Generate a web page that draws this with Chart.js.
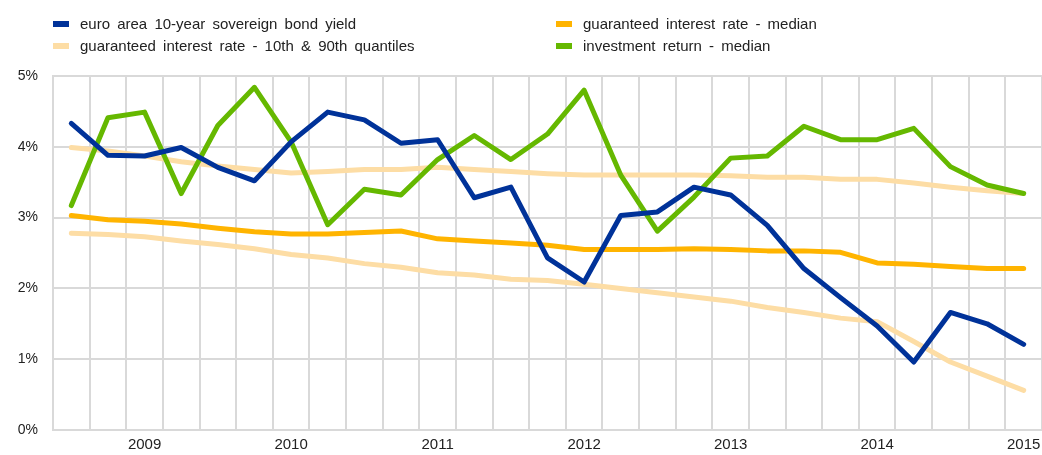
<!DOCTYPE html>
<html>
<head>
<meta charset="utf-8">
<script src="https://cdn.jsdelivr.net/npm/chart.js@4.4.1/dist/chart.umd.min.js"></script>
<style>
    body { margin: 0; background: #fff; font-family: "Liberation Sans", Arial, sans-serif; }
    #wrap { position: relative; width: 1042px; height: 455px; overflow: hidden; }
    .leg { position: absolute; font-size: 15px; color: #222; white-space: nowrap; word-spacing: 3px; }
    .leg span { position: absolute; left: -27px; top: 6px; width: 16px; height: 6px; }
</style>
</head>
<body>
<div id="wrap">
    <div class="leg" style="left:80px; top:15px;"><span style="background:#003299"></span>euro area 10-year sovereign bond yield</div>
    <div class="leg" style="left:80px; top:37px;"><span style="background:#FDDDA5"></span>guaranteed interest rate - 10th &amp; 90th quantiles</div>
    <div class="leg" style="left:583px; top:15px;"><span style="background:#FFB400"></span>guaranteed interest rate - median</div>
    <div class="leg" style="left:583px; top:37px;"><span style="background:#65B800"></span>investment return - median</div>
    <canvas id="lineChart"></canvas>
</div>
<script>
// quarters, 2008 Q3 to 2015 Q1
const quarters = [
    '2008Q3', '2008Q4',
    '2009Q1', '2009Q2', '2009Q3', '2009Q4',
    '2010Q1', '2010Q2', '2010Q3', '2010Q4',
    '2011Q1', '2011Q2', '2011Q3', '2011Q4',
    '2012Q1', '2012Q2', '2012Q3', '2012Q4',
    '2013Q1', '2013Q2', '2013Q3', '2013Q4',
    '2014Q1', '2014Q2', '2014Q3', '2014Q4',
    '2015Q1'
];

const bondYield = [4.33, 3.88, 3.87, 3.99, 3.71, 3.52, 4.07, 4.49, 4.38, 4.05, 4.10, 3.28, 3.43, 2.43,
    2.09, 3.03, 3.08, 3.43, 3.32, 2.89, 2.28, 1.87, 1.47, 0.96, 1.66, 1.50, 1.21];
const investReturn = [3.17, 4.41, 4.49, 3.34, 4.30, 4.84, 4.07, 2.90, 3.40, 3.32, 3.82, 4.16, 3.82, 4.18,
    4.80, 3.60, 2.81, 3.29, 3.84, 3.87, 4.29, 4.10, 4.10, 4.26, 3.72, 3.46, 3.34];
const guaranteedMedian = [3.03, 2.97, 2.95, 2.91, 2.85, 2.80, 2.77, 2.77, 2.79, 2.81, 2.70, 2.67, 2.64, 2.61,
    2.55, 2.55, 2.55, 2.56, 2.55, 2.53, 2.53, 2.51, 2.36, 2.34, 2.31, 2.28, 2.28];
const guaranteedP90 = [3.99, 3.94, 3.87, 3.79, 3.73, 3.68, 3.63, 3.65, 3.68, 3.68, 3.71, 3.68, 3.65, 3.62,
    3.60, 3.60, 3.60, 3.60, 3.59, 3.57, 3.57, 3.54, 3.54, 3.49, 3.43, 3.38, 3.34];
const guaranteedP10 = [2.78, 2.76, 2.73, 2.67, 2.62, 2.56, 2.48, 2.43, 2.35, 2.30, 2.22, 2.19, 2.13, 2.11,
    2.06, 2.00, 1.94, 1.88, 1.82, 1.73, 1.66, 1.58, 1.53, 1.25, 0.96, 0.76, 0.56];

const yTicks = [0, 1, 2, 3, 4, 5];

const gridColor = '#d9d9d9';
const fontFamily = '"Liberation Sans", Arial, sans-serif';

const lineStyle = (color) => ({
    borderColor: color,
    backgroundColor: color,
    borderWidth: 5,
    pointRadius: 0,
    tension: 0,
    fill: false,
    borderCapStyle: 'round',
    borderJoinStyle: 'round'
});

// first dataset is drawn on top
const data = {
    labels: quarters,
    datasets: [
        { label: 'euro area 10-year sovereign bond yield', data: bondYield, ...lineStyle('#003299') },
        { label: 'investment return - median', data: investReturn, ...lineStyle('#65B800') },
        { label: 'guaranteed interest rate - median', data: guaranteedMedian, ...lineStyle('#FFB400') },
        { label: 'guaranteed interest rate - 10th quantile', data: guaranteedP10, ...lineStyle('#FDDDA5') },
        { label: 'guaranteed interest rate - 90th quantile', data: guaranteedP90, ...lineStyle('#FDDDA5') }
    ]
};

const options = {
    responsive: true,
    maintainAspectRatio: false,
    animation: false,
    layout: { padding: { top: 76, right: 0, left: 0, bottom: 0 } },
    plugins: {
        legend: { display: false },
        tooltip: { enabled: false }
    },
    scales: {
        x: {
            type: 'category',
            offset: true,
            grid: { offset: true, color: gridColor, lineWidth: 2, drawTicks: false },
            border: { color: gridColor, width: 2 },
            ticks: {
                autoSkip: false,
                maxRotation: 0,
                padding: 6,
                color: '#222',
                font: { family: fontFamily, size: 15 },
                callback: function (value) {
                    const q = quarters[value];
                    return q.endsWith('Q1') ? q.slice(0, 4) : '';
                }
            },
            afterFit: (scale) => {
                scale.height = 25;
                scale.paddingRight = 0;
                scale.paddingLeft = 0;
            }
        },
        y: {
            min: 0,
            max: 5,
            afterBuildTicks: (scale) => { scale.ticks = yTicks.map(v => ({ value: v })); },
            grid: { color: gridColor, lineWidth: 2, drawTicks: false },
            border: { color: gridColor, width: 2 },
            ticks: {
                padding: 15,
                color: '#222',
                font: { family: fontFamily, size: 14 },
                callback: (v) => v + '%'
            },
            afterFit: (scale) => { scale.width = 53; }
        }
    }
};

const ctx = document.getElementById('lineChart').getContext('2d');
new Chart(ctx, { type: 'line', data: data, options: options });
</script>
</body>
</html>
